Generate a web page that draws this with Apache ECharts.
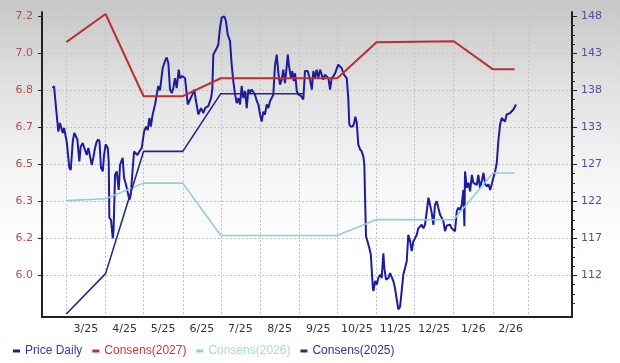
<!DOCTYPE html>
<html>
<head>
<meta charset="utf-8">
<script src="https://cdn.jsdelivr.net/npm/echarts@6/dist/echarts.min.js"></script>
<style>
html,body{margin:0;padding:0;}
body{width:620px;height:363px;background:linear-gradient(to bottom,#c6c6c6 0px,#e2e2e2 90px,#f6f6f6 180px,#ffffff 250px,#ffffff 363px);}
#chart{width:620px;height:363px;}
</style>
</head>
<body>
<div id="chart"></div>
<script>
// x values are days counted from 1 March 2025
const monthStartDays = [0, 31, 61, 92, 122, 153, 184, 214, 245, 275, 306, 337, 365];
const monthLabels = ['3/25','4/25','5/25','6/25','7/25','8/25','9/25','10/25','11/25','12/25','1/26','2/26'];

// left axis (EPS consensus) ticks and labels
const leftTickValues = [5.975, 6.15, 6.325, 6.5, 6.675, 6.85, 7.025, 7.2];
const leftTickLabels = ['6.0','6.2','6.3','6.5','6.7','6.8','7.0','7.2'];
// right axis (price) ticks and labels
const rightTickValues = [111.8, 117.0, 122.2, 127.4, 132.6, 137.8, 143.0, 148.2];
const rightTickLabels = ['112','117','122','127','133','138','143','148'];

// Consensus series
const consDays = [0, 31, 61, 92, 122, 214, 245, 306, 337, 354];
const cons2027 = [7.078, 7.211, 6.822, 6.822, 6.907, 6.907, 7.077, 7.082, 6.949, 6.949];
const cons2026 = [6.328, 6.337, 6.411, 6.411, 6.163, 6.163, 6.239, 6.238, 6.459, 6.459];
const cons2025Days = [0, 31, 61, 92, 122, 187];
const cons2025 = [5.792, 5.983, 6.561, 6.561, 6.834, 6.834];

// Daily price
const priceDays = [-10.7,-9.7,-8.1,-6.3,-5.0,-3.6,-2.8,-1.8,0.3,2.4,3.5,5.1,6.3,7.7,8.7,10.3,11.4,13.0,14.2,16.1,17.4,20.1,21.3,22.7,24.0,25.3,26.2,27.4,28.8,29.8,31.1,32.7,33.5,34.0,35.3,36.7,37.3,38.5,39.8,41.4,42.4,44.5,45.6,47.2,49.8,50.9,52.1,53.5,54.8,56.1,57.7,59.6,61.4,63.0,64.3,65.6,66.7,68.2,70.1,71.4,72.7,74.0,76.1,77.9,79.3,80.6,81.9,83.3,84.5,85.8,87.2,88.8,89.8,91.6,93.8,95.9,97.7,99.5,101.1,102.2,104.3,106.4,108.2,109.6,112.2,114.3,115.3,116.1,117.5,118.8,120.0,121.4,122.7,124.8,126.1,127.5,129.3,130.6,131.9,133.3,134.6,135.9,137.2,138.5,139.8,141.2,142.5,143.8,145.1,146.4,149.0,150.4,151.7,153.0,154.3,155.6,156.9,158.3,159.6,160.9,162.2,163.5,164.8,166.2,167.5,168.8,170.1,171.4,172.7,174.1,174.9,175.9,177.5,178.5,179.6,180.7,182.0,183.3,185.4,187.2,188.5,190.6,192.5,193.9,195.1,196.4,197.7,199.0,200.4,201.7,203.0,204.3,205.7,207.0,208.3,209.6,211.0,212.3,214.8,216.2,217.5,218.8,220.1,221.5,222.7,223.5,224.6,226.2,227.3,228.3,229.4,230.6,232.0,233.3,234.6,235.4,235.9,236.7,237.8,239.4,240.5,241.3,242.1,242.6,243.9,245.3,246.4,247.8,249.1,250.4,251.2,252.5,254.3,255.7,257.0,258.3,259.6,261.0,262.2,263.6,264.9,266.2,267.5,268.9,270.1,271.5,272.8,274.1,275.4,276.8,278.0,279.4,280.7,282.0,283.3,284.7,286.0,287.3,288.6,289.9,291.2,292.6,293.8,295.2,296.5,297.8,299.1,300.5,301.7,303.1,304.4,305.7,307.0,308.4,309.6,311.0,312.3,313.6,314.4,314.9,316.3,317.6,318.9,320.3,321.5,322.9,324.2,325.4,326.8,328.1,329.5,330.8,332.2,333.4,334.8,336.0,337.3,338.7,340.0,341.2,342.6,343.9,345.2,346.5,347.8,349.2,350.5,351.9,353.1,354.4,355.2];
const priceValues = [138.1,138.4,135.3,132.0,133.2,133.4,131.8,132.5,130.6,126.9,126.6,130.6,131.8,131.3,130.9,127.8,129.9,130.4,129.7,128.7,129.7,127.3,128.3,129.7,130.6,130.9,130.6,126.9,126.4,128.7,130.2,129.7,127.8,119.9,119.6,117.0,118.0,125.9,126.4,123.8,127.3,128.3,125.5,124.5,122.4,123.1,126.0,129.2,129.4,128.7,129.2,129.7,132.0,132.7,132.2,133.9,132.7,134.4,135.8,137.2,138.4,137.8,140.9,141.9,142.4,141.6,137.9,137.4,138.1,139.5,138.1,140.7,139.5,139.8,139.5,135.8,136.5,137.2,137.9,136.5,134.4,135.3,134.6,135.3,135.6,136.7,137.9,142.8,143.3,143.7,144.2,146.6,148.0,148.2,147.5,145.6,144.7,141.4,139.1,137.2,136.0,136.7,135.8,138.4,136.7,137.7,135.3,137.9,137.5,137.9,137.2,136.3,135.8,134.4,133.4,134.8,134.4,135.8,135.3,136.3,136.7,137.2,141.2,142.8,140.2,138.6,139.3,140.7,138.8,141.2,142.8,141.2,139.5,140.5,139.1,140.2,137.7,137.2,137.0,136.5,140.5,140.5,139.3,137.9,140.5,139.5,140.7,139.5,140.7,140.9,139.3,140.0,140.2,139.5,137.9,139.5,139.8,140.2,141.4,141.6,140.9,140.2,139.8,139.5,136.7,133.0,132.7,132.7,133.2,134.1,133.2,130.2,129.5,129.2,128.5,127.3,123.1,117.3,116.6,115.6,114.7,112.4,110.0,109.6,111.0,110.5,111.4,111.9,111.4,114.9,112.8,111.2,111.4,112.1,111.9,111.0,110.0,108.4,107.0,107.4,109.6,111.9,112.8,113.8,117.5,116.6,115.2,116.6,117.0,117.5,118.4,118.2,118.9,118.4,118.9,120.8,122.7,121.7,120.6,118.9,121.7,122.2,121.3,120.3,119.9,119.4,118.0,118.8,118.7,118.9,118.4,118.2,118.0,120.8,121.3,121.0,121.7,123.8,118.7,126.4,124.1,124.8,123.6,125.9,124.8,124.8,124.5,125.9,124.1,125.0,126.2,124.6,124.3,124.6,123.8,124.6,125.5,126.4,127.6,130.6,133.0,133.9,133.7,133.4,134.4,134.6,134.6,134.8,135.1,135.3,135.8];

const zip = (a, b) => a.map((v, i) => [v, b[i]]);

const labelDays = monthLabels.map((_, i) => (monthStartDays[i] + monthStartDays[i + 1]) / 2);
// minor ticks of the right axis (3 between majors)
const rightMinor = [];
const rStep = rightTickValues[1] - rightTickValues[0];
for (let t = rightTickValues[0] - rStep; t <= rightTickValues[rightTickValues.length - 1] + 0.01; t += rStep) {
  for (let k = 1; k < 4; k++) rightMinor.push(+(t + k * rStep / 4).toFixed(3));
}

const gridLine = { show: true, lineStyle: { color: '#c4c4c4', type: [2, 2], width: 1 } };
const axisFont = 'DejaVu Sans';

const chart = echarts.init(document.getElementById('chart'), null, { renderer: 'canvas' });
chart.setOption({
  backgroundColor: 'transparent',
  animation: false,
  grid: { left: 42, right: 48, top: 12, bottom: 46, containLabel: false },
  xAxis: [{
    type: 'value',
    min: -19.2, max: 399.4,
    axisLine: { show: true, onZero: false, lineStyle: { color: '#222', width: 2 } },
    axisTick: { show: false, customValues: monthStartDays },
    splitLine: gridLine,
    axisLabel: {
      customValues: labelDays,
      formatter: v => { const i = labelDays.findIndex(d => Math.abs(d - v) < 0.01); return i >= 0 ? monthLabels[i] : ''; },
      color: '#333', fontFamily: axisFont, fontSize: 11, margin: 7
    }
  }],
  yAxis: [{
    type: 'value', position: 'left',
    min: 5.7778, max: 7.2203,
    axisLine: { show: true, onZero: false, lineStyle: { color: '#222', width: 2 } },
    axisTick: { show: true, customValues: leftTickValues, length: 4, lineStyle: { color: '#222' } },
    splitLine: gridLine,
    axisLabel: {
      customValues: leftTickValues,
      formatter: v => { const i = leftTickValues.findIndex(d => Math.abs(d - v) < 1e-6); return i >= 0 ? leftTickLabels[i] : ''; },
      color: '#b0504e', fontFamily: axisFont, fontSize: 11, margin: 9
    }
  }, {
    type: 'value', position: 'right',
    min: 105.94, max: 148.80,
    axisLine: { show: true, onZero: false, lineStyle: { color: '#222', width: 2 } },
    axisTick: { show: true, customValues: rightTickValues, length: 5, lineStyle: { color: '#222' } },
    splitLine: { show: false },
    axisLabel: {
      customValues: rightTickValues,
      formatter: v => { const i = rightTickValues.findIndex(d => Math.abs(d - v) < 1e-6); return i >= 0 ? rightTickLabels[i] : ''; },
      color: '#50509e', fontFamily: axisFont, fontSize: 11, margin: 9
    }
  }, {
    type: 'value', position: 'right',
    min: 105.94, max: 148.80,
    axisLine: { show: false, onZero: false },
    axisTick: { show: true, customValues: rightMinor, length: 3, lineStyle: { color: '#333' } },
    splitLine: { show: false },
    axisLabel: { show: false }
  }],
  legend: {
    left: 8, top: 340,
    icon: 'rect', itemWidth: 7, itemHeight: 3, itemGap: 10,
    textStyle: { fontFamily: 'Liberation Sans', fontSize: 12, width: 85 },
    data: [
      { name: 'Price Daily', textStyle: { color: '#3a3aa0' } },
      { name: 'Consens(2027)', textStyle: { color: '#c03a35' } },
      { name: 'Consens(2026)', textStyle: { color: '#a9d6e0' } },
      { name: 'Consens(2025)', textStyle: { color: '#34348f' } }
    ]
  },
  series: [{
    name: 'Price Daily', type: 'line', yAxisIndex: 1,
    data: zip(priceDays, priceValues),
    showSymbol: false, symbol: 'none',
    itemStyle: { color: '#1c1ca0' },
    lineStyle: { color: '#1c1ca0', width: 2 }
  }, {
    name: 'Consens(2027)', type: 'line', yAxisIndex: 0,
    data: zip(consDays, cons2027),
    showSymbol: false, symbol: 'none',
    itemStyle: { color: '#c0302c' },
    lineStyle: { color: '#b83030', width: 2 }
  }, {
    name: 'Consens(2026)', type: 'line', yAxisIndex: 0,
    data: zip(consDays, cons2026),
    showSymbol: false, symbol: 'none',
    itemStyle: { color: '#8fd0dc' },
    lineStyle: { color: '#8fcfdc', width: 1.6 }
  }, {
    name: 'Consens(2025)', type: 'line', yAxisIndex: 0,
    data: zip(cons2025Days, cons2025),
    showSymbol: false, symbol: 'none',
    itemStyle: { color: '#2a2a8c' },
    lineStyle: { color: '#26268a', width: 1.6 }
  }]
});
</script>
</body>
</html>
